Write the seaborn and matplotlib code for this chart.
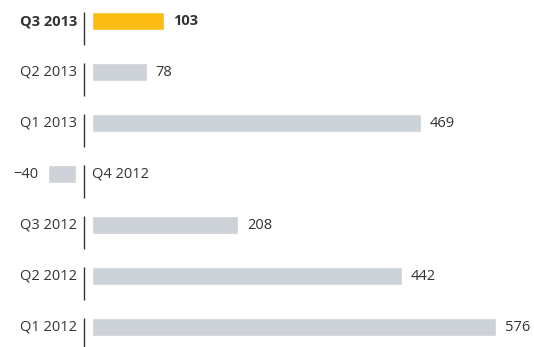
import matplotlib
matplotlib.use("Agg")
import matplotlib.pyplot as plt
import matplotlib.transforms as mtrans
import seaborn as sns
import pandas as pd

categories = ["Q3 2013", "Q2 2013", "Q1 2013", "Q4 2012", "Q3 2012", "Q2 2012", "Q1 2012"]
values = [103, 78, 469, -40, 208, 442, 576]
value_labels = ["103", "78", "469", "\u221240", "208", "442", "576"]
highlight = "Q3 2013"

GRAY = "#cdd1d8"
YELLOW = "#fbbd14"
TEXT = "#333333"

sns.set_theme(style="white")
plt.rcParams["font.family"] = ["Open Sans", "DejaVu Sans"]

df = pd.DataFrame({"cat": categories, "val": values})
colors = [YELLOW if c == highlight else GRAY for c in categories]

fig = plt.figure(figsize=(5.34, 3.47), dpi=100)
ax = fig.add_axes([0, 0, 1, 1])
bar_h = 0.353
sns.barplot(data=df, y="cat", x="val", hue="cat", palette=colors, legend=False,
            orient="h", width=bar_h, ax=ax, saturation=1, dodge=False)

ax.set_xlim(-119.8, 641.6)
ax.set_ylim(6.392, -0.412)
ax.axis("off")

gap_px = 8
for patch in ax.patches:
    sign = 1 if patch.get_width() >= 0 else -1
    patch.set_transform(ax.transData +
                        mtrans.ScaledTranslation(sign * gap_px / 100, 0, fig.dpi_scale_trans))

for i, (c, v, lab) in enumerate(zip(categories, values, value_labels)):
    ax.vlines(0, i - bar_h / 2, i + 0.47, color=TEXT, lw=1.0)
    weight = "bold" if c == highlight else "normal"
    fs = 10.5
    if v >= 0:
        ax.annotate(c, (0, i), xytext=(-7, 0), textcoords="offset pixels",
                    ha="right", va="center", fontsize=fs, color=TEXT, fontweight=weight)
        ax.annotate(lab, (v, i), xytext=(gap_px + 9, 0), textcoords="offset pixels",
                    ha="left", va="center", fontsize=fs, color=TEXT, fontweight=weight)
    else:
        ax.annotate(c, (0, i), xytext=(8, 0), textcoords="offset pixels",
                    ha="left", va="center", fontsize=fs, color=TEXT, fontweight=weight)
        ax.annotate(lab, (v, i), xytext=(-gap_px - 10, 0), textcoords="offset pixels",
                    ha="right", va="center", fontsize=fs, color=TEXT, fontweight=weight)

fig.savefig("out.png", dpi=100, facecolor="white")
